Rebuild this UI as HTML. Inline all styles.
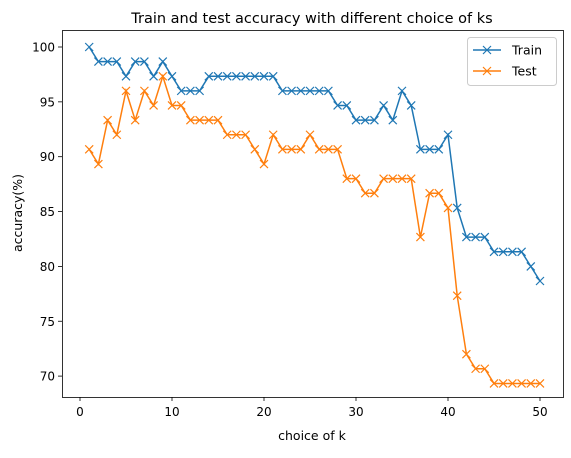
<!DOCTYPE html>
<html><head><meta charset="utf-8"><style>
body{margin:0;background:#fff;font-family:"Liberation Sans","DejaVu Sans",sans-serif}
svg text{font-family:"DejaVu Sans","Liberation Sans",sans-serif;fill:#000}
</style></head><body>
<svg id="chart" width="571" height="453" viewBox="0 0 571 453" xmlns="http://www.w3.org/2000/svg">
<rect width="571" height="453" fill="#fff"/>
<text x="312" y="23" font-size="14.5" text-anchor="middle">Train and test accuracy with different choice of ks</text>
<text x="312" y="440" font-size="12.5" text-anchor="middle">choice of k</text>
<text transform="translate(22,213) rotate(-90)" font-size="12.5" text-anchor="middle">accuracy(%)</text>
<g id="ticks"></g>
<g id="series"></g>
<rect x="62.5" y="30.5" width="501" height="367" fill="none" stroke="#000" stroke-width="0.8"/>
<g>
<rect x="467.5" y="37.5" width="89" height="48" rx="3" fill="#fff" stroke="#ccc"/>
<g>
<line x1="473" y1="50" x2="501" y2="50" stroke="#1f77b4" stroke-width="1.5"/>
<path d="M483,46 l8,8 M491,46 l-8,8" stroke="#1f77b4" stroke-width="1.2"/>
<text x="512" y="54.5" font-size="12.5">Train</text></g>
<g>
<line x1="473" y1="71" x2="501" y2="71" stroke="#ff7f0e" stroke-width="1.5"/>
<path d="M483,67 l8,8 M491,67 l-8,8" stroke="#ff7f0e" stroke-width="1.2"/>
<text x="512" y="75.5" font-size="12.5">Test</text></g>
</g>
</svg>
<script>
const ks = Array.from({length:50},(_,i)=>i+1);
const train = [100,98.67,98.67,98.67,97.33,98.67,98.67,97.33,98.67,97.33,96,96,96,97.33,97.33,97.33,97.33,97.33,97.33,97.33,97.33,96,96,96,96,96,96,94.67,94.67,93.33,93.33,93.33,94.67,93.33,96,94.67,90.67,90.67,90.67,92,85.33,82.67,82.67,82.67,81.33,81.33,81.33,81.33,80,78.67];
const test = [90.67,89.33,93.33,92,96,93.33,96,94.67,97.33,94.67,94.67,93.33,93.33,93.33,93.33,92,92,92,90.67,89.33,92,90.67,90.67,90.67,92,90.67,90.67,90.67,88,88,86.67,86.67,88,88,88,88,82.67,86.67,86.67,85.33,77.33,72,70.67,70.67,69.33,69.33,69.33,69.33,69.33,69.33];
const xTicks = [0,10,20,30,40,50];
const yTicks = [70,75,80,85,90,95,100];
const NS="http://www.w3.org/2000/svg";
const xs = v => 80 + v*9.2;
const ys = v => 47 + (100-v)*10.97;
function mk(tag,attrs,parent){const e=document.createElementNS(NS,tag);for(const k in attrs)e.setAttribute(k,attrs[k]);parent.appendChild(e);return e;}
const tg=document.getElementById('ticks');
xTicks.forEach(t=>{
  const l=mk('line',{x1:xs(t),x2:xs(t),y1:397,y2:401,stroke:'#000','stroke-width':0.8},tg);
  
  
  const tx=mk('text',{x:xs(t),y:416,'font-size':12,'text-anchor':'middle'},tg);tx.textContent=t;
  
  
});
yTicks.forEach(t=>{
  const l=mk('line',{x1:58,x2:62,y1:ys(t),y2:ys(t),stroke:'#000','stroke-width':0.8},tg);
  
  
  const tx=mk('text',{x:55,y:ys(t)+4.5,'font-size':12,'text-anchor':'end'},tg);tx.textContent=t;
  
  
});
const sg=document.getElementById('series');
[[train,'#1f77b4','train-line'],[test,'#ff7f0e','test-line']].forEach(([d,c,n])=>{
  const g=mk('g',{},sg);
  
  
  mk('polyline',{points:d.map((v,i)=>xs(ks[i])+','+ys(v)).join(' '),fill:'none',stroke:c,'stroke-width':1.5},g);
  d.forEach((v,i)=>{
    const x=xs(ks[i]),y=ys(v);
    const m=mk('path',{d:`M${x-4},${y-4} l8,8 M${x+4},${y-4} l-8,8`,stroke:c,'stroke-width':1.2},g);
    
    
  });
});
</script>
</body></html>
